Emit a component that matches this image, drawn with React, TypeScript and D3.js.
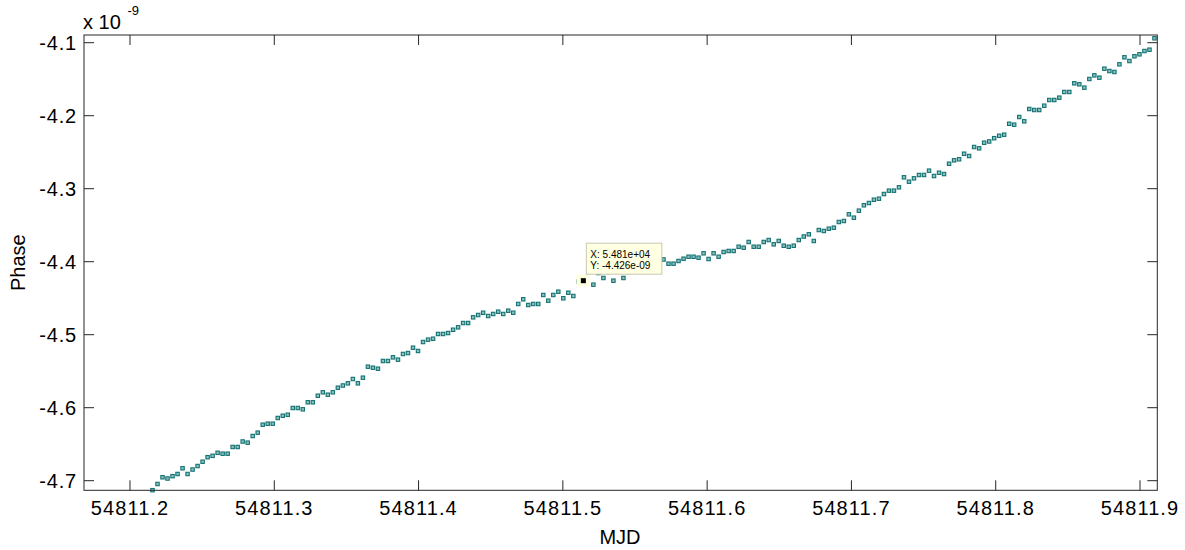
import React from "react";
import * as d3 from "d3";

// Sampling: one phase measurement every 5 minutes, starting at MJD 54811.21559
const START_MJD = 54811.21559;
const SAMPLE_DAYS = 5 / 1440;

// Phase values in units of 1e-9
const PHASE = [
  -4.7130, -4.7045, -4.6953, -4.6970, -4.6938, -4.6908, -4.6830, -4.6908, -4.6847, -4.6799,
  -4.6740, -4.6678, -4.6659, -4.6618, -4.6630, -4.6630, -4.6538, -4.6538, -4.6463, -4.6479,
  -4.6388, -4.6342, -4.6233, -4.6219, -4.6219, -4.6141, -4.6110, -4.6096, -4.6004, -4.6004,
  -4.6022, -4.5926, -4.5926, -4.5836, -4.5789, -4.5822, -4.5789, -4.5726, -4.5696, -4.5666,
  -4.5607, -4.5666, -4.5589, -4.5438, -4.5452, -4.5466, -4.5360, -4.5360, -4.5310, -4.5342,
  -4.5264, -4.5251, -4.5178, -4.5223, -4.5100, -4.5068, -4.5055, -4.4990, -4.4990, -4.4977,
  -4.4932, -4.4899, -4.4840, -4.4840, -4.4762, -4.4730, -4.4699, -4.4744, -4.4716, -4.4685,
  -4.4716, -4.4671, -4.4699, -4.4579, -4.4515, -4.4593, -4.4579, -4.4579, -4.4456, -4.4534,
  -4.4456, -4.4411, -4.4501, -4.4425, -4.4470, -4.4272, -4.4260, -4.4141, -4.4315, -4.4155,
  -4.4223, -4.4141, -4.4260, -4.4127, -4.4223, -4.4141, -4.4127, -4.4100, -4.4086, -4.4059,
  -4.4032, -4.4004, -4.3970, -4.4027, -4.4027, -4.3990, -4.3959, -4.3932, -4.3932, -4.3945,
  -4.3885, -4.3963, -4.3885, -4.3932, -4.3867, -4.3853, -4.3853, -4.3795, -4.3808, -4.3730,
  -4.3795, -4.3795, -4.3730, -4.3703, -4.3762, -4.3716, -4.3781, -4.3795, -4.3781, -4.3703,
  -4.3655, -4.3625, -4.3716, -4.3566, -4.3579, -4.3548, -4.3534, -4.3456, -4.3442, -4.3351,
  -4.3397, -4.3301, -4.3227, -4.3196, -4.3151, -4.3137, -4.3073, -4.3027, -4.3027, -4.2981,
  -4.2844, -4.2904, -4.2858, -4.2812, -4.2812, -4.2753, -4.2826, -4.2781, -4.2799, -4.2658,
  -4.2611, -4.2597, -4.2521, -4.2552, -4.2429, -4.2447, -4.2370, -4.2353, -4.2308, -4.2275,
  -4.2260, -4.2110, -4.2123, -4.2018, -4.2077, -4.1908, -4.1922, -4.1922, -4.1863, -4.1785,
  -4.1785, -4.1753, -4.1675, -4.1675, -4.1556, -4.1570, -4.1616, -4.1497, -4.1447, -4.1479,
  -4.1356, -4.1388, -4.1401, -4.1296, -4.1200, -4.1251, -4.1186, -4.1159, -4.1114, -4.1096,
  -4.0940,
];

const X_TICKS = [54811.2, 54811.3, 54811.4, 54811.5, 54811.6, 54811.7, 54811.8, 54811.9];
const Y_TICKS = [-4.1, -4.2, -4.3, -4.4, -4.5, -4.6, -4.7];

// Data cursor on sample 86
const TIP_INDEX = 86;
const TIP_LINES = ["X: 5.481e+04", "Y: -4.426e-09"];

const W = 1185;
const H = 550;
const LEFT = 84;
const RIGHT = 1157.3;
const TOP = 35;
const BOTTOM = 490.3;
const TICK = 10;
const FONT = "'Liberation Sans', Arial, Helvetica, sans-serif";
const AXIS = "#262626";

const label = (v: number) => v.toFixed(1);

export default function App() {
  const x = d3.scaleLinear().domain([54811.16812, 54811.91199]).range([LEFT, RIGHT]);
  const y = d3.scaleLinear().domain([-4.71315, -4.08945]).range([BOTTOM, TOP]);

  const pts = PHASE.map((v, i) => ({ t: START_MJD + i * SAMPLE_DAYS, v }));
  const tip = pts[TIP_INDEX];
  const tx = x(tip.t);
  const ty = y(tip.v);

  return (
    <svg
      width={W}
      height={H}
      style={{ position: "absolute", left: 0, top: 0, background: "#fff" }}
      fontFamily={FONT}
    >
      <rect x={0} y={0} width={W} height={H} fill="#fff" />

      {/* markers */}
      <g>
        {pts.map((p, i) => (
          <rect
            key={i}
            x={x(p.t) - 1.7}
            y={y(p.v) - 1.7}
            width={3.4}
            height={3.4}
            fill="#8cc2c2"
            stroke="#147272"
            strokeWidth={1.1}
          />
        ))}
      </g>

      {/* axes box */}
      <rect x={LEFT} y={TOP} width={RIGHT - LEFT} height={BOTTOM - TOP} fill="none" stroke={AXIS} strokeWidth={1} />

      {/* x ticks, bottom and top */}
      {X_TICKS.map((t) => (
        <g key={t}>
          <line x1={x(t)} x2={x(t)} y1={BOTTOM} y2={BOTTOM - TICK} stroke={AXIS} />
          <line x1={x(t)} x2={x(t)} y1={TOP} y2={TOP + TICK} stroke={AXIS} />
          <text x={x(t)} y={515} textAnchor="middle" fontSize={20} letterSpacing={1.1} fill="#000">
            {label(t)}
          </text>
        </g>
      ))}

      {/* y ticks, left and right */}
      {Y_TICKS.map((t) => (
        <g key={t}>
          <line x1={LEFT} x2={LEFT + TICK} y1={y(t)} y2={y(t)} stroke={AXIS} />
          <line x1={RIGHT} x2={RIGHT - TICK} y1={y(t)} y2={y(t)} stroke={AXIS} />
          <text x={77} y={y(t) + 7} textAnchor="end" fontSize={20} letterSpacing={0.8} fill="#000">
            {label(t)}
          </text>
        </g>
      ))}

      {/* exponent */}
      <text x={83} y={29} fontSize={20} fill="#000">
        x 10
      </text>
      <text x={127.5} y={15} fontSize={13} fill="#000">
        -9
      </text>

      {/* axis titles */}
      <text x={620} y={544} textAnchor="middle" fontSize={20} fill="#000">
        MJD
      </text>
      <text
        transform={`translate(25, ${(TOP + BOTTOM) / 2}) rotate(-90)`}
        textAnchor="middle"
        fontSize={20}
        fill="#000"
      >
        Phase
      </text>

      {/* data cursor */}
      <rect x={tx - 7} y={ty - 6} width={12.5} height={11.5} fill="#ffffe1" />
      <rect x={tx - 2.5} y={ty - 2.5} width={5} height={5} fill="#000" />
      <rect x={tx + 3} y={ty - 37.5} width={75.5} height={31} fill="#ffffe1" stroke="#c8c8b4" strokeWidth={1} />
      {TIP_LINES.map((s, i) => (
        <text key={s} x={tx + 7} y={ty - 22.5 + i * 11} fontSize={10} fill="#000">
          {s}
        </text>
      ))}
    </svg>
  );
}
